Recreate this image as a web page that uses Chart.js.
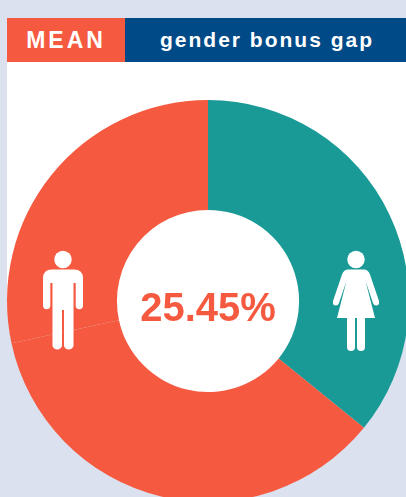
<!DOCTYPE html>
<html>
<head>
<meta charset="utf-8">
<style>
  html, body { margin: 0; padding: 0; width: 406px; height: 497px; overflow: hidden; background: #dbe1ef; }
  body { position: relative; font-family: "Liberation Sans", Arial, sans-serif; }
  .panel { position: absolute; left: 7px; top: 62px; width: 399px; height: 240px; background: #fff; }
  .hole { position: absolute; left: 116px; top: 209px; width: 184px; height: 184px; border-radius: 50%; background: #fff; }
  .tag { position: absolute; top: 18px; height: 44px; line-height: 44px; color: #fff; font-weight: bold; text-align: center; }
  #mean { left: 7px; width: 118px; background: #f55a40; font-size: 23px; letter-spacing: 3px; }
  #title { left: 125px; width: 281px; background: #004a87; font-size: 21px; letter-spacing: 2px; text-indent: 3px; }
  #wrap { position: absolute; left: 7px; top: 100px; width: 402px; height: 402px; }
  #gap { position: absolute; left: 107px; top: 285px; width: 202px; text-align: center; color: #f55a40; font-weight: bold; font-size: 40px; line-height: 44px; }
  svg { position: absolute; fill: #fff; }
</style>
</head>
<body>
<div class="panel"></div>
<div class="hole"></div>
<div class="tag" id="mean">MEAN</div>
<div class="tag" id="title">gender bonus gap</div>
<div id="wrap"><canvas id="pie" width="402" height="402"></canvas></div>
<div id="gap">25.45%</div>

<!-- man -->
<svg style="left:43px;top:250px" width="40" height="102" viewBox="0 0 40 102">
  <circle cx="20" cy="9.5" r="8.7"/>
  <path d="M9 19.5H31Q40 19.5 40 28.5V55.5A3.6 3.6 0 0 1 32.7 55.5V33H30.5V96A5 5 0 0 1 21 96V60H19V96A5 5 0 0 1 9.5 96V33H7.3V55.5A3.6 3.6 0 0 1 0 55.5V28.5Q0 19.5 9 19.5Z"/>
</svg>
<!-- woman -->
<svg style="left:333px;top:250px" width="46" height="102" viewBox="0 0 46 102">
  <circle cx="23" cy="9.5" r="8.7"/>
  <path d="M15 19.5H31Q35 19.5 37 24.5L46 51A3 3 0 0 1 40.2 53.5L32.5 31L42 68H4L13.5 31L5.8 53.5A3 3 0 0 1 0 51L9 24.5Q11 19.5 15 19.5Z"/>
  <path d="M14 66H22V97A4 4 0 0 1 14 97Z"/>
  <path d="M24 66H32V97A4 4 0 0 1 24 97Z"/>
</svg>

<script src="https://cdn.jsdelivr.net/npm/chart.js@4"></script>
<script>
const categories = ["Women", "Men", "Men (rest)"];
const shares = [35.87, 35.76, 28.37];
const sliceColours = ["#1a9a96", "#f55a40", "#f55a40"];

new Chart(document.getElementById('pie'), {
  type: 'doughnut',
  data: {
    labels: categories,
    datasets: [{ data: shares, backgroundColor: sliceColours, borderWidth: 0 }]
  },
  options: {
    responsive: false,
    animation: false,
    cutout: '45.3%',
    layout: { padding: 0 },
    plugins: { legend: { display: false }, tooltip: { enabled: false } }
  }
});
</script>
</body>
</html>
